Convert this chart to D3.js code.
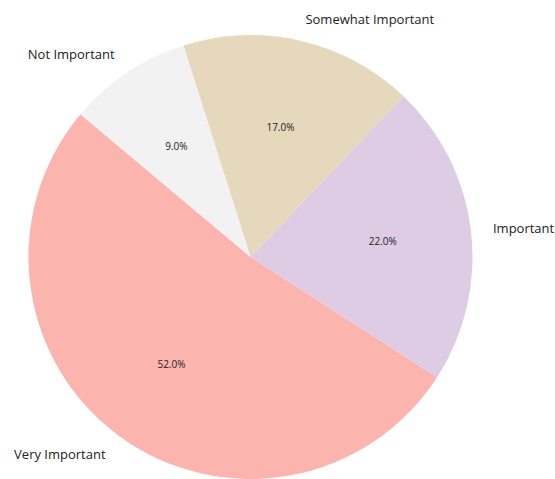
<!DOCTYPE html>
<html>
<head>
<meta charset="utf-8">
<script src="https://cdn.jsdelivr.net/npm/d3@7"></script>
<style>
  html, body { margin: 0; padding: 0; background: #ffffff; }
  svg { display: block; }
  text { font-family: "Open Sans", "Noto Sans", sans-serif; fill: #222222; }
</style>
</head>
<body>
<svg id="chart" width="555" height="479"></svg>
<script>
// Survey responses: importance ratings (percent of respondents)
const categories = ["Very Important", "Important", "Somewhat Important", "Not Important"];
const shares = [52, 22, 17, 9];
const sliceColors = ["#fbb4ae", "#decbe4", "#e5d8bd", "#f2f2f2"];

const width = 555, height = 479;
const cx = 250.5, cy = 257, radius = 222;
const startDeg = 140; // first slice begins here, slices run counter-clockwise

const svg = d3.select("#chart");
const g = svg.append("g").attr("transform", `translate(${cx},${cy})`);

const total = d3.sum(shares);
const toRad = d => d * Math.PI / 180;

// d3 angles: 0 at 12 o'clock, clockwise. Convert from counter-clockwise math angles.
const slices = [];
let acc = startDeg;
shares.forEach((v, i) => {
  const span = v / total * 360;
  const a0 = acc, a1 = acc + span; // math degrees, CCW
  slices.push({ i, value: v, label: categories[i], a0, a1, mid: (a0 + a1) / 2 });
  acc = a1;
});

const arc = d3.arc().innerRadius(0).outerRadius(radius);

g.selectAll("path.slice")
  .data(slices)
  .join("path")
  .attr("class", "slice")
  .attr("fill", d => sliceColors[d.i])
  .attr("d", d => arc({
    startAngle: toRad(90 - d.a1),
    endAngle: toRad(90 - d.a0)
  }));

const fmt = d3.format(".1f");

// percentage labels inside slices
g.selectAll("text.pct")
  .data(slices)
  .join("text")
  .attr("class", "pct")
  .attr("x", d => Math.cos(toRad(d.mid)) * radius * 0.6)
  .attr("y", d => -Math.sin(toRad(d.mid)) * radius * 0.6)
  .attr("text-anchor", "middle")
  .attr("dominant-baseline", "central")
  .style("font-size", "10px")
  .text(d => fmt(d.value / total * 100) + "%");

// category labels outside the pie
g.selectAll("text.cat")
  .data(slices)
  .join("text")
  .attr("class", "cat")
  .attr("x", d => Math.cos(toRad(d.mid)) * radius * 1.1)
  .attr("y", d => -Math.sin(toRad(d.mid)) * radius * 1.1)
  .attr("text-anchor", d => Math.cos(toRad(d.mid)) < 0 ? "end" : "start")
  .attr("dominant-baseline", "central")
  .style("font-size", "13px")
  .text(d => d.label);
</script>
</body>
</html>
